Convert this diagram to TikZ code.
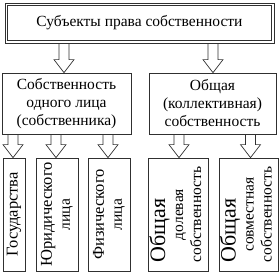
\documentclass[tikz,border=0pt]{standalone}
\usepackage{fontspec}
\setmainfont{Liberation Serif}
\usetikzlibrary{calc}
\definecolor{boxline}{HTML}{303030}
\newcommand{\mainsize}{\fontsize{15.5}{18}\selectfont}
\newcommand{\bigword}{\fontsize{16.5}{18}\selectfont}
\newcommand{\hugeword}{\fontsize{22}{20}\selectfont}
\tikzset{
  box/.style     = {rectangle, draw=boxline, line width=0.7pt, align=center,
                    font=\mainsize, inner sep=2pt},
  vbox/.style    = {box, rotate=90, inner sep=1pt},
  blkarr/.style  = {draw=boxline, line width=0.7pt, line join=miter},
}
% hollow block arrow: x position, from anchor, to anchor
\newcommand{\blkarrow}[3]{%
  \draw[blkarr] let \p1=(#2), \p2=(#3) in
    (#1pt-5pt,\y1) -- (#1pt-5pt,\y2+13pt) -- (#1pt-10pt,\y2+13pt) -- (#1pt,\y2)
    -- (#1pt+10pt,\y2+13pt) -- (#1pt+5pt,\y2+13pt) -- (#1pt+5pt,\y1);}
\begin{document}
\begin{tikzpicture}[x=1pt, y=-1pt]
  \useasboundingbox (0,0) rectangle (279,275);
  \node[box, minimum width=269pt, minimum height=40pt] (ttl) at (139.5,23) {Субъекты права собственности};
  \draw[boxline, line width=0.7pt] ([shift={(3pt,-3pt)}]ttl.north west) rectangle ([shift={(-3pt,3pt)}]ttl.south east);
  \node[box, minimum width=129pt, minimum height=61pt] (own) at (66.5,103.5) {Собственность\\одного лица\\(собственника)};
  \node[box, minimum width=127pt, minimum height=61pt] (com) at (212.5,103.5) {Общая\\(коллективная)\\собственность};
  \node[vbox, minimum width=113pt, minimum height=22pt] (st) at (14,214.5) {\bigword Государства};
  \node[vbox, minimum width=113pt, minimum height=42pt] (jur) at (57,214.5) {{\bigword Юридического}\\лица};
  \node[vbox, minimum width=113pt, minimum height=42pt] (phy) at (109,214.5) {{\bigword Физического}\\лица};
  \node[vbox, minimum width=113pt, minimum height=60pt] (sh) at (178,214.5)
    {\begin{tabular}{@{}c@{}}\multicolumn{1}{@{}l@{}}{\hugeword Общая}\\долевая\\собственность\end{tabular}};
  \node[vbox, minimum width=113pt, minimum height=57pt] (jt) at (248.5,214.5)
    {\begin{tabular}{@{}c@{}}\multicolumn{1}{@{}l@{}}{\hugeword Общая}\\совместная\\собственность\end{tabular}};
  \foreach \px/\src/\dst in {64/ttl/own, 213/ttl/com}
    {\blkarrow{\px}{\src.south}{\dst.north}}
  \foreach \px/\dst in {13/st, 56/jur, 108/phy}
    {\blkarrow{\px}{own.south}{\dst.east}}
  \foreach \px/\dst in {179/sh, 250.5/jt}
    {\blkarrow{\px}{com.south}{\dst.east}}
\end{tikzpicture}
\end{document}
